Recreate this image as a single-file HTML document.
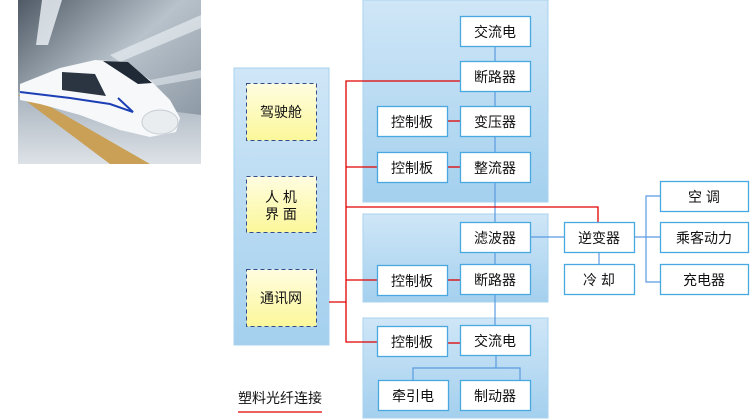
<!DOCTYPE html>
<html><head><meta charset="utf-8"><style>
html,body{margin:0;padding:0;background:#fff;width:750px;height:419px;overflow:hidden}
svg text{font-family:"Liberation Sans","Noto Sans CJK SC",sans-serif;font-size:14px;fill:#111}
</style></head><body>
<svg width="750" height="419" xmlns="http://www.w3.org/2000/svg">
<defs>
<linearGradient id="pg" x1="0" y1="0" x2="0" y2="1"><stop offset="0" stop-color="#cfe6f7"/><stop offset="1" stop-color="#a4d0ee"/></linearGradient>
<linearGradient id="yg" x1="0" y1="0" x2="0" y2="1"><stop offset="0" stop-color="#fffde0"/><stop offset="1" stop-color="#fbf79a"/></linearGradient>
<linearGradient id="bg" x1="0" y1="0" x2="1" y2="1"><stop offset="0" stop-color="#4f5a66"/><stop offset="0.45" stop-color="#b8c2cb"/><stop offset="1" stop-color="#7d8a96"/></linearGradient>
<linearGradient id="fl" x1="0" y1="0" x2="0" y2="1"><stop offset="0" stop-color="#a7b2bd"/><stop offset="1" stop-color="#dde2e7"/></linearGradient>
</defs>
<!-- photo -->
<rect x="18" y="0" width="183" height="164" fill="url(#bg)"/>
<polygon points="42,0 62,0 48,45 36,45" fill="#eef3f7" opacity="0.8"/>
<polygon points="110,55 201,15 201,28 120,62" fill="#eef3f7" opacity="0.6"/>
<polygon points="150,80 201,70 201,78 155,86" fill="#e4e9ee" opacity="0.6"/>
<polygon points="18,92 201,115 201,164 18,164" fill="url(#fl)"/>
<polygon points="18,95 30,95 150,164 110,164" fill="#c9a056"/>
<path d="M20,84 L60,68 L95,60 L125,62 L150,80 L170,100 L180,118 L176,132 L150,137 L120,130 L80,115 L40,104 L20,100 Z" fill="#f6f8fa"/>
<path d="M103,61 L128,62 L152,83 L138,84 Z" fill="#1f2a36"/>
<path d="M62,72 L95,74 L106,96 L62,90 Z" fill="#2a3541"/>
<path d="M20,92 L70,98 L110,104 L133,112 L118,98" stroke="#1d3fb5" stroke-width="2" fill="none"/>
<ellipse cx="160" cy="122" rx="18" ry="12" fill="#e9edf0" stroke="#c7cdd3"/>
<!-- panels -->
<rect x="234" y="68" width="95" height="277" fill="url(#pg)" stroke="#a9d3ef"/>
<rect x="363" y="0" width="185" height="202" fill="url(#pg)" stroke="#a9d3ef"/>
<rect x="363" y="214" width="185" height="88" fill="url(#pg)" stroke="#a9d3ef"/>
<rect x="363" y="318" width="185" height="100" fill="url(#pg)" stroke="#a9d3ef"/>
<g fill="url(#yg)" stroke="#334d8c" stroke-dasharray="4,3">
<rect x="246.5" y="83.5" width="70" height="57"/>
<rect x="246.5" y="176.5" width="70" height="56"/>
<rect x="246.5" y="269.5" width="70" height="57"/>
</g>
<g stroke="#5b9be0" stroke-width="1.2" fill="none">
<line x1="495" y1="46" x2="495" y2="61"/>
<line x1="495" y1="91" x2="495" y2="106"/>
<line x1="495" y1="136" x2="495" y2="152"/>
<line x1="495" y1="182" x2="495" y2="222"/>
<line x1="495" y1="252" x2="495" y2="264"/>
<line x1="495" y1="294" x2="495" y2="325"/>
<line x1="496" y1="355" x2="496" y2="368"/>
<polyline points="413,380 413,368 520,368 520,380"/>
<line x1="530" y1="237" x2="564" y2="237"/>
<line x1="599" y1="252" x2="599" y2="264"/>
<line x1="634" y1="237" x2="660" y2="237"/>
<polyline points="660,196 646,196 646,282 660,282"/>
</g>
<g stroke="#e00000" stroke-width="1.3" fill="none">
<polyline points="460,81 346,81 346,342 377,342"/>
<line x1="346" y1="167" x2="377" y2="167"/>
<line x1="346" y1="280" x2="377" y2="280"/>
<polyline points="346,207 598,207 598,222"/>
<line x1="329" y1="302" x2="346" y2="302"/>
<line x1="447" y1="121" x2="460" y2="121"/>
<line x1="447" y1="167" x2="460" y2="167"/>
<line x1="447" y1="280" x2="460" y2="280"/>
<line x1="447" y1="343" x2="460" y2="343"/>
<line x1="238" y1="412" x2="322" y2="412"/>
</g>
<g fill="#fff" stroke="#4aa8e0" stroke-width="1.3">
<rect x="460.5" y="16.5" width="70" height="30"/>
<rect x="460.5" y="61.5" width="70" height="30"/>
<rect x="377.5" y="106.5" width="70" height="30"/>
<rect x="460.5" y="106.5" width="70" height="30"/>
<rect x="377.5" y="152.5" width="70" height="30"/>
<rect x="460.5" y="152.5" width="70" height="30"/>
<rect x="460.5" y="222.5" width="70" height="30"/>
<rect x="377.5" y="265.5" width="70" height="30"/>
<rect x="460.5" y="264.5" width="70" height="30"/>
<rect x="377.5" y="326.5" width="70" height="30"/>
<rect x="460.5" y="325.5" width="70" height="30"/>
<rect x="378.5" y="380.5" width="70" height="30"/>
<rect x="460.5" y="380.5" width="70" height="30"/>
<rect x="564.5" y="222.5" width="70" height="30"/>
<rect x="564.5" y="264.5" width="70" height="30"/>
<rect x="660.5" y="181.5" width="88" height="30"/>
<rect x="660.5" y="222.5" width="88" height="30"/>
<rect x="660.5" y="264.5" width="88" height="30"/>
</g>
<g text-anchor="middle">
<text x="495" y="37">交流电</text>
<text x="495" y="82">断路器</text>
<text x="412" y="127">控制板</text>
<text x="495" y="127">变压器</text>
<text x="412" y="173">控制板</text>
<text x="495" y="173">整流器</text>
<text x="495" y="243">滤波器</text>
<text x="412" y="286">控制板</text>
<text x="495" y="285">断路器</text>
<text x="412" y="347">控制板</text>
<text x="495" y="346">交流电</text>
<text x="413" y="401">牵引电</text>
<text x="495" y="401">制动器</text>
<text x="599" y="243">逆变器</text>
<text x="599" y="285">冷 却</text>
<text x="704" y="202">空 调</text>
<text x="704" y="243">乘客动力</text>
<text x="704" y="285">充电器</text>
<text x="281" y="117">驾驶舱</text>
<text x="281" y="202">人 机</text>
<text x="281" y="219">界 面</text>
<text x="281" y="303">通讯网</text>
<text x="280" y="403">塑料光纤连接</text>
</g>
</svg>
</body></html>
